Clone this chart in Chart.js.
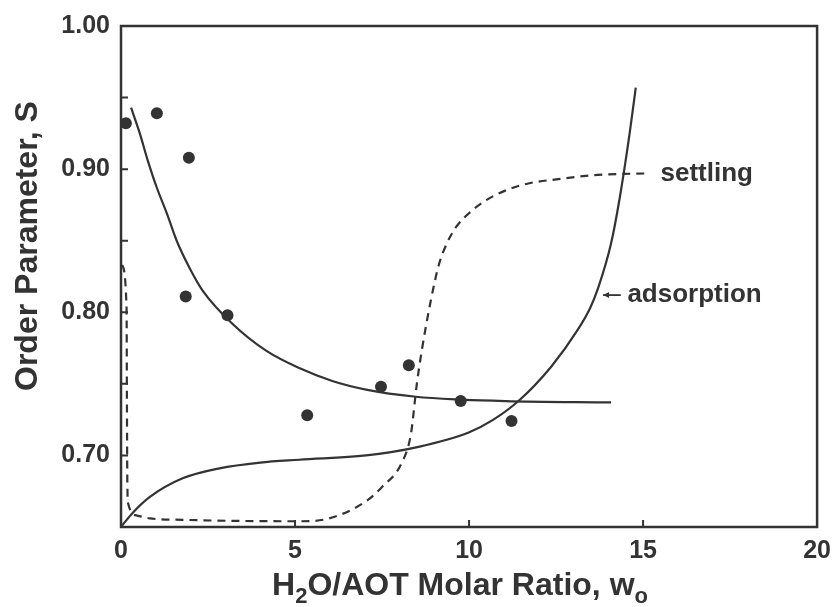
<!DOCTYPE html>
<html>
<head>
<meta charset="utf-8">
<title>Order parameter vs w0</title>
<script src="https://cdn.jsdelivr.net/npm/chart.js@4.4.1/dist/chart.umd.min.js"></script>
<style>
  html, body { margin: 0; padding: 0; background: #fff; }
  #wrap { width: 840px; height: 607px; }
</style>
</head>
<body>
<div id="wrap"><canvas id="orderCanvas"></canvas></div>
<script>
// measured order parameter (dots)
const measuredW = [0.14, 1.03, 1.95, 1.86, 3.06, 5.35, 7.47, 8.27, 9.76, 11.22];
const measuredS = [0.932, 0.939, 0.908, 0.811, 0.798, 0.728, 0.748, 0.763, 0.738, 0.724];

// solid fit curve through the dots
const fitW = [0.29, 0.54, 0.77, 1.03, 1.32, 1.60, 1.97, 2.35, 3.20, 4.18, 5.12, 6.07, 7.04, 8.47, 9.79, 11.04, 14.08];
const fitS = [0.943, 0.925, 0.906, 0.887, 0.869, 0.850, 0.831, 0.815, 0.792, 0.773, 0.761, 0.752, 0.746, 0.741, 0.739, 0.738, 0.737];

// "adsorption" curve (solid)
const adsW = [0.03, 0.34, 0.83, 1.77, 2.83, 4.0, 5.12, 7.04, 8.55, 9.99, 10.7, 11.42, 12.36, 13.13, 13.48, 13.71, 14.08, 14.33, 14.62, 14.79];
const adsS = [0.651, 0.660, 0.671, 0.684, 0.691, 0.695, 0.697, 0.700, 0.706, 0.716, 0.725, 0.738, 0.762, 0.788, 0.803, 0.817, 0.848, 0.880, 0.926, 0.957];

// "settling" curve (dashed)
const setW = [0.03, 0.16, 0.17, 0.18, 0.2, 0.46, 0.83, 1.77, 5.12, 5.98, 7.04, 7.5, 8.07, 8.33, 8.5, 8.64, 8.9, 9.13, 9.36, 9.64, 9.99, 10.47, 11.04, 11.7, 12.56, 13.7, 15.08];
const setS = [0.833, 0.803, 0.738, 0.687, 0.667, 0.658, 0.656, 0.655, 0.654, 0.656, 0.668, 0.678, 0.695, 0.715, 0.750, 0.773, 0.808, 0.833, 0.848, 0.860, 0.869, 0.878, 0.885, 0.890, 0.893, 0.896, 0.897];

// axis ticks
const xTicks = [0, 5, 10, 15, 20];
const yLabels = ['0.70', '0.80', '0.90', '1.00'];

const INK = '#333333';
const FONT = "'Liberation Sans', Arial, Helvetica, sans-serif";

function toPoints(xs, ys) {
    return xs.map((v, i) => ({ x: v, y: ys[i] }));
}

// frame, inward ticks, titles and curve labels
const decorPlugin = {
    id: 'decor',
    afterDraw(chart) {
        const { ctx, chartArea: a, scales: { x, y } } = chart;
        ctx.save();
        ctx.strokeStyle = INK;
        ctx.fillStyle = INK;

        ctx.lineWidth = 2.5;
        ctx.strokeRect(a.left, a.top, a.right - a.left, a.bottom - a.top);

        ctx.lineWidth = 2;
        ctx.beginPath();
        y.ticks.forEach(t => {
            if (t.value > y.min + 1e-6 && t.value < y.max - 1e-6) {
                const py = y.getPixelForValue(t.value);
                ctx.moveTo(a.left, py);
                ctx.lineTo(a.left + 7, py);
            }
        });
        x.ticks.forEach(t => {
            if (t.value > x.min && t.value < x.max) {
                const px = x.getPixelForValue(t.value);
                ctx.moveTo(px, a.bottom);
                ctx.lineTo(px, a.bottom - 7);
            }
        });
        ctx.stroke();

        // y title
        ctx.save();
        ctx.translate(28, 246);
        ctx.rotate(-Math.PI / 2);
        ctx.font = 'bold 32px ' + FONT;
        ctx.textAlign = 'center';
        ctx.textBaseline = 'middle';
        ctx.fillText('Order Parameter, S', 0, 0);
        ctx.restore();

        // x title with subscripts
        const parts = [['H', false], ['2', true], ['O/AOT Molar Ratio, w', false], ['o', true]];
        const big = 'bold 32px ' + FONT, small = 'bold 22px ' + FONT;
        let total = 0;
        parts.forEach(p => { ctx.font = p[1] ? small : big; total += ctx.measureText(p[0]).width; });
        let cx = 460 - total / 2;
        ctx.textAlign = 'left';
        ctx.textBaseline = 'alphabetic';
        parts.forEach(p => {
            ctx.font = p[1] ? small : big;
            ctx.fillText(p[0], cx, p[1] ? 603 : 595);
            cx += ctx.measureText(p[0]).width;
        });

        // curve labels
        ctx.font = 'bold 26px ' + FONT;
        ctx.textBaseline = 'middle';
        ctx.fillText('settling', x.getPixelForValue(15.5), y.getPixelForValue(0.897));

        const ay = y.getPixelForValue(0.812);
        const tip = x.getPixelForValue(13.85), tail = x.getPixelForValue(14.36);
        ctx.lineWidth = 1.8;
        ctx.beginPath();
        ctx.moveTo(tip, ay);
        ctx.lineTo(tail, ay);
        ctx.stroke();
        ctx.beginPath();
        ctx.moveTo(tip, ay);
        ctx.lineTo(tip + 6, ay - 3);
        ctx.lineTo(tip + 6, ay + 3);
        ctx.closePath();
        ctx.fill();
        ctx.fillText('adsorption', x.getPixelForValue(14.55), ay);

        ctx.restore();
    }
};

const ctx = document.getElementById('orderCanvas').getContext('2d');

const orderChart = new Chart(ctx, {
    type: 'scatter',
    data: {
        datasets: [
            {
                label: 'measured',
                data: toPoints(measuredW, measuredS),
                pointRadius: 6,
                pointBackgroundColor: INK,
                pointBorderWidth: 0,
                showLine: false
            },
            {
                label: 'fit',
                data: toPoints(fitW, fitS),
                showLine: true,
                borderColor: INK,
                borderWidth: 2.2,
                pointRadius: 0,
                cubicInterpolationMode: 'monotone'
            },
            {
                label: 'adsorption',
                data: toPoints(adsW, adsS),
                showLine: true,
                borderColor: INK,
                borderWidth: 2.2,
                pointRadius: 0,
                cubicInterpolationMode: 'monotone'
            },
            {
                label: 'settling',
                data: toPoints(setW, setS),
                showLine: true,
                borderColor: INK,
                borderWidth: 2.2,
                borderDash: [8, 6],
                pointRadius: 0,
                cubicInterpolationMode: 'monotone'
            }
        ]
    },
    options: {
        responsive: true,
        maintainAspectRatio: false,
        devicePixelRatio: 1,
        animation: false,
        layout: { padding: { top: 25, right: 20, left: 0, bottom: 0 } },
        plugins: {
            legend: { display: false },
            tooltip: { enabled: false }
        },
        scales: {
            x: {
                type: 'linear',
                min: 0,
                max: 20,
                afterFit: s => { s.height = 80; },
                afterBuildTicks: s => { s.ticks = xTicks.map(v => ({ value: v })); },
                grid: { display: false, drawTicks: false },
                border: { display: false },
                ticks: {
                    color: INK,
                    padding: 9,
                    autoSkip: false,
                    maxRotation: 0,
                    font: { family: FONT, size: 25, weight: 'bold' }
                }
            },
            y: {
                type: 'linear',
                min: 0.65,
                max: 1.0,
                afterFit: s => { s.width = 121; },
                grid: { display: false, drawTicks: false },
                border: { display: false },
                ticks: {
                    stepSize: 0.05,
                    color: INK,
                    padding: 11,
                    autoSkip: false,
                    font: { family: FONT, size: 25, weight: 'bold' },
                    callback: value => {
                        const s = value.toFixed(2);
                        return yLabels.includes(s) ? s : '';
                    }
                }
            }
        }
    },
    plugins: [decorPlugin]
});
</script>
</body>
</html>
